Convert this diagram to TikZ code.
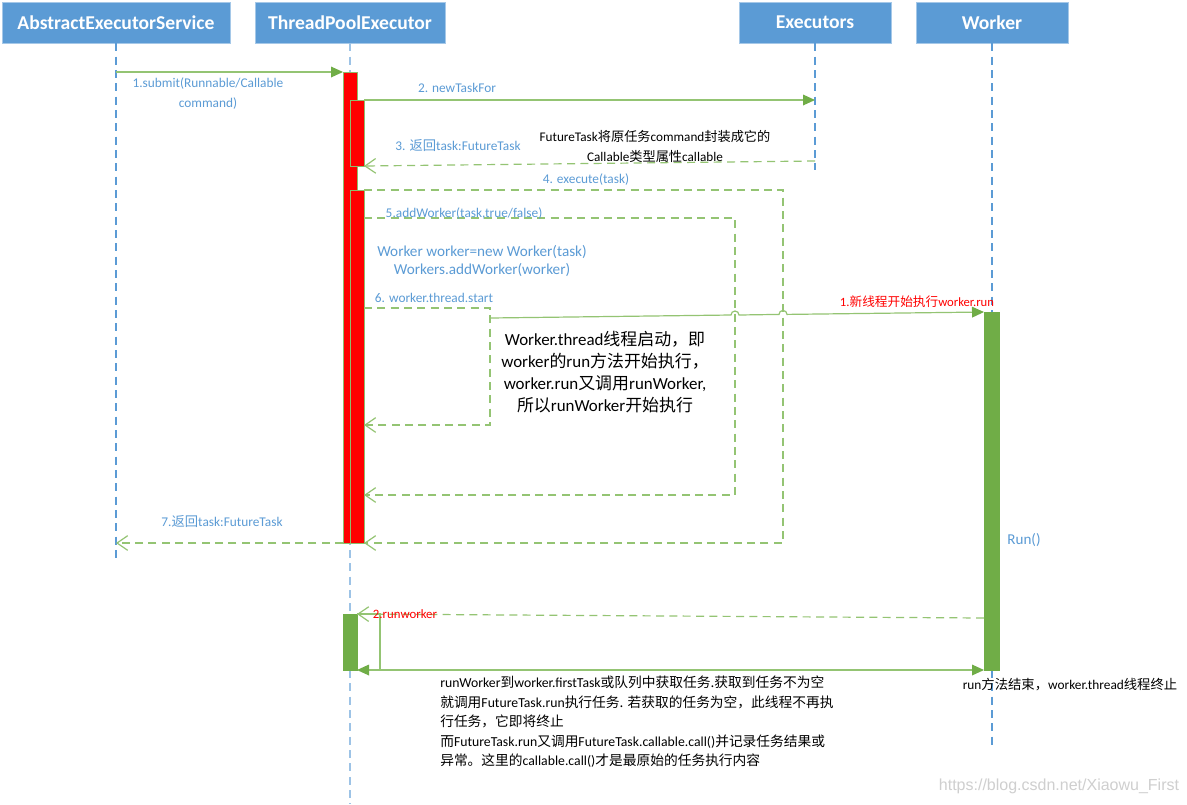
\documentclass[tikz,border=0pt]{standalone}
\usepackage{fontspec}
\setmainfont{Carlito}
\newfontfamily\cjk{Noto Sans CJK SC}
\newfontfamily\wmfont{Liberation Sans}
\usetikzlibrary{arrows.meta}
\newcommand{\zh}[1]{{\cjk #1}}
\definecolor{hdrblue}{HTML}{5B9BD5}
\definecolor{lblblue}{HTML}{5B9BD5}
\definecolor{lifelight}{HTML}{9DC3E6}
\definecolor{msggreen}{HTML}{94C473}
\definecolor{bargreen}{HTML}{70AD47}
\definecolor{barred}{HTML}{FF0000}
\definecolor{wmgray}{HTML}{CFCFCF}
\tikzset{
  hdr/.style={fill=hdrblue, draw=hdrblue!55, line width=0.6pt, text=white,
    font=\bfseries\fontsize{14.7}{16}\selectfont, inner sep=0pt, minimum height=30.75pt},
  life/.style={hdrblue, dash pattern=on 6pt off 4pt, line width=0.8pt},
  lifel/.style={lifelight, dash pattern=on 6pt off 4pt, line width=0.8pt},
  actred/.style={fill=barred, draw=bargreen!80, line width=0.6pt},
  actgreen/.style={fill=bargreen, draw=bargreen, line width=0.6pt},
  call/.style={msggreen, line width=0.9pt, -{Triangle[length=9pt,width=8pt,color=bargreen]}},
  ret/.style={msggreen, line width=0.9pt, dash pattern=on 6pt off 4pt, -{Straight Barb[length=8pt,width=11pt]}},
  plainline/.style={msggreen, line width=0.9pt},
  lbl/.style={text=lblblue, font=\fontsize{10}{15}\selectfont, inner sep=0pt, align=center},
  note/.style={text=black, inner sep=0pt, align=center},
}
\begin{document}
\begin{tikzpicture}[x=0.75pt,y=-0.75pt]
\fill[white] (0,0) rectangle (1187,804);
\useasboundingbox (0,0) rectangle (1187,804);

% headers
\node[hdr, minimum width=171pt] (hA) at (116,22.5) {AbstractExecutorService};
\node[hdr, minimum width=142.5pt] (hT) at (350,22.5) {ThreadPoolExecutor};
\node[hdr, minimum width=114pt] (hE) at (815,22.5) {Executors};
\node[hdr, minimum width=114pt] (hW) at (992,22.5) {Worker};

% lifeline ends
\coordinate (eA) at (116,562);
\coordinate (eT) at (350,804);
\coordinate (eE) at (815,170);
\coordinate (eW) at (992,750);
\draw[life] (hA.south) -- (eA);
\draw[lifel] (hT.south) -- (eT);
\draw[life] (hE.south) -- (eE);
\draw[life] (hW.south) -- (eW);

% activation bars
\draw[actred] (343,72) rectangle (357,543);
\draw[actred] (350,100) rectangle (364,166);
\draw[actred] (350,190) rectangle (364,543);
\draw[actgreen] (984,312) rectangle (999,670);
\draw[actgreen] (343,614) rectangle (357,670);

% coordinates for messages
\coordinate (a1) at (116,72);   \coordinate (t1) at (343,72);
\coordinate (t2) at (364,100);  \coordinate (e2) at (815,100);
\coordinate (e3) at (815,161);  \coordinate (t3) at (364,166);
\coordinate (t4) at (364,190);  \coordinate (c4a) at (783,190); \coordinate (c4b) at (783,543); \coordinate (t4r) at (364,543);
\coordinate (t5) at (364,218);  \coordinate (c5a) at (735,218); \coordinate (c5b) at (735,495); \coordinate (t5r) at (364,495);
\coordinate (t6) at (364,308);  \coordinate (c6a) at (490,308); \coordinate (c6b) at (490,425); \coordinate (t6r) at (364,425);
\coordinate (s6) at (490,318);  \coordinate (w6) at (984,312);
\coordinate (t7) at (343,543);  \coordinate (a7) at (116,543);
\coordinate (w8) at (984,618);  \coordinate (t8) at (357,614);
\coordinate (l8) at (380,614);  \coordinate (l8b) at (380,670);
\coordinate (t9) at (357,670);  \coordinate (w9) at (984,670);

% messages
\draw[call] (a1) -- (t1);
\draw[call] (t2) -- (e2);
\draw[ret] (e3) -- (t3);
\draw[ret] (t4) -- (c4a) -- (c4b) -- (t4r);
\draw[ret] (t5) -- (c5a) -- (c5b) -- (t5r);
\draw[ret] (t6) -- (c6a) -- (c6b) -- (t6r);
\draw[call] (s6) -- (731,315.0) arc[start angle=180,end angle=360,radius=4]
  -- (779,314.4) arc[start angle=180,end angle=360,radius=4] -- (w6);
\draw[ret] (t7) -- (a7);
\draw[ret] (w8) -- (t8);
\draw[plainline] (t8) -- (l8) -- (l8b);
\draw[msggreen, line width=0.9pt, {Triangle[length=9pt,width=8pt,color=bargreen]}-{Triangle[length=9pt,width=8pt,color=bargreen]}] (t9) -- (w9);

% labels
\node[lbl] (L1) at (208,94) {1.submit(Runnable/Callable\\command)};
\node[lbl] (L2) at (457,88) {2. newTaskFor};
\node[lbl] (L3) at (458,146) {3. \zh{返回}task:FutureTask};
\node[note, font=\fontsize{9.9}{15}\selectfont] (N3) at (655,146) {FutureTask\zh{将原任务}command\zh{封装成它的}\\Callable\zh{类型属性}callable};
\node[lbl] (L4) at (586,180) {4. execute(task)};
\node[lbl] (L5) at (464,214) {5.addWorker(task,true/false)};
\node[lbl, font=\fontsize{11.4}{13.5}\selectfont] (L5b) at (482,261) {Worker worker=new Worker(task)\\Workers.addWorker(worker)};
\node[lbl] (L6) at (434,298) {6. worker.thread.start};
\node[text=red, inner sep=0pt, font=\fontsize{9.5}{11}\selectfont] (L6b) at (917,302) {1.\zh{新线程开始执行}worker.run};
\node[note, font=\fontsize{12.7}{16.3}\selectfont] (N6) at (605,372) {Worker.thread\zh{线程启动，即}\\worker\zh{的}run\zh{方法开始执行，}\\worker.run\zh{又调用}runWorker,\\\zh{所以}runWorker\zh{开始执行}};
\node[lbl] (L7) at (222,522) {7.\zh{返回}task:FutureTask};
\node[lbl, font=\fontsize{11.3}{12}\selectfont] (LR) at (1024,540) {Run()};
\node[text=red, inner sep=0pt, font=\fontsize{9.6}{10}\selectfont] (L8) at (405,614) {2.runworker};
\node[note, align=left, anchor=north west, font=\fontsize{10.3}{14.6}\selectfont] (N9) at (440,676)
 {runWorker\zh{到}worker.firstTask\zh{或队列中获取任务.获取到任务不为空}\\
  \zh{就调用}FutureTask.run\zh{执行任务. 若获取的任务为空，此线程不再执}\\
  \zh{行任务，它即将终止}\\
  \zh{而}FutureTask.run\zh{又调用}FutureTask.callable.call()\zh{并记录任务结果或}\\
  \zh{异常。这里的}callable.call()\zh{才是最原始的任务执行内容}};
\node[note, font=\fontsize{10}{11}\selectfont] (N10) at (1070,685) {run\zh{方法结束，}worker.thread\zh{线程终止}};
\node[text=wmgray, inner sep=0pt, font=\wmfont\fontsize{12}{13}\selectfont] (WM) at (1059,786) {https://blog.csdn.net/Xiaowu\_First};
\end{tikzpicture}
\end{document}
